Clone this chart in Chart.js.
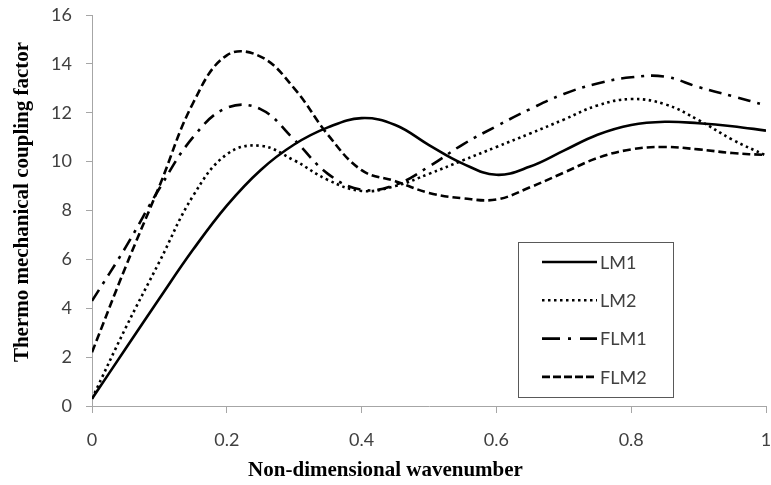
<!DOCTYPE html>
<html lang="en">
<head>
    <meta charset="UTF-8">
    <title>Thermo mechanical coupling factor</title>
    <script src="https://cdn.jsdelivr.net/npm/chart.js"></script>
    <style>
        body {
            margin: 0;
            background: #fff;
        }
    </style>
</head>
<body>
    <canvas id="couplingChart" width="771" height="485"></canvas>

    <script>
        // values
        const waveNumber = [0, 0.05, 0.1, 0.15, 0.2, 0.25, 0.3, 0.35, 0.4, 0.45, 0.5,
                            0.55, 0.6, 0.65, 0.7, 0.75, 0.8, 0.85, 0.9, 0.95, 1];
        const lm1  = [0.3, 2.35, 4.4, 6.4, 8.2, 9.65, 10.7, 11.4, 11.78, 11.5, 10.68,
                      9.92, 9.46, 9.8, 10.45, 11.1, 11.5, 11.63, 11.57, 11.45, 11.27];
        const lm2  = [0.3, 3.2, 5.9, 8.6, 10.3, 10.65, 10.05, 9.25, 8.8, 9.0, 9.5,
                      10.05, 10.6, 11.15, 11.72, 12.3, 12.56, 12.35, 11.7, 10.9, 10.25];
        const flm1 = [4.3, 6.5, 8.9, 11.0, 12.2, 12.15, 10.9, 9.5, 8.85, 9.05, 9.8,
                      10.7, 11.45, 12.15, 12.77, 13.2, 13.45, 13.48, 13.05, 12.68, 12.3];
        const flm2 = [2.2, 5.7, 9.0, 12.4, 14.35, 14.3, 13.0, 11.1, 9.65, 9.2, 8.72,
                      8.5, 8.45, 8.95, 9.55, 10.15, 10.5, 10.6, 10.5, 10.35, 10.27];

        const seriesNames = ['LM1', 'LM2', 'FLM1', 'FLM2'];
        const xTickValues = [0, 0.2, 0.4, 0.6, 0.8, 1];
        const xTickLabels = ['0', '0.2', '0.4', '0.6', '0.8', '1'];
        const yTickValues = [0, 2, 4, 6, 8, 10, 12, 14, 16];

        const xTitle = 'Non-dimensional wavenumber';
        const yTitle = 'Thermo mechanical coupling factor';

        const axisColor = '#a6a6a6';
        const textColor = '#404040';
        const tickFont = { family: 'Lato', size: 18 };

        function toPoints(values) {
            return values.map((v, i) => ({ x: waveNumber[i], y: v }));
        }

        function lineStyle(dash) {
            return {
                borderColor: '#000',
                borderWidth: 2.6,
                borderDash: dash,
                pointRadius: 0,
                fill: false,
                tension: 0.4
            };
        }

        // titles and boxed legend drawn by hand, Excel style
        const extrasPlugin = {
            id: 'extras',
            afterDraw(chart) {
                const ctx = chart.ctx;
                const area = chart.chartArea;
                ctx.save();

                ctx.fillStyle = '#000';
                ctx.font = 'bold 21px "Liberation Serif"';
                ctx.textAlign = 'center';
                ctx.textBaseline = 'alphabetic';
                ctx.fillText(xTitle, chart.width / 2, 476);

                ctx.save();
                ctx.translate(28, 202);
                ctx.rotate(-Math.PI / 2);
                ctx.fillText(yTitle, 0, 0);
                ctx.restore();

                // legend box
                const bx = area.right - 248, by = area.bottom - 164, bw = 155, bh = 155;
                ctx.fillStyle = '#fff';
                ctx.fillRect(bx, by, bw, bh);
                ctx.strokeStyle = '#595959';
                ctx.lineWidth = 1;
                ctx.strokeRect(bx + 0.5, by + 0.5, bw, bh);

                ctx.font = '18px Lato';
                ctx.textAlign = 'left';
                ctx.textBaseline = 'middle';
                chart.data.datasets.forEach((ds, i) => {
                    const y = by + 20 + i * 38.3;
                    ctx.beginPath();
                    ctx.setLineDash(ds.legendDash || ds.borderDash);
                    ctx.lineWidth = ds.borderWidth;
                    ctx.strokeStyle = ds.borderColor;
                    ctx.moveTo(bx + 24, y);
                    ctx.lineTo(bx + 79, y);
                    ctx.stroke();
                    ctx.setLineDash([]);
                    ctx.fillStyle = textColor;
                    ctx.fillText(ds.label, bx + 82, y + 1);
                });

                ctx.restore();
            }
        };

        const ctx = document.getElementById('couplingChart').getContext('2d');
        const couplingChart = new Chart(ctx, {
            type: 'line',
            data: {
                datasets: [
                    Object.assign({ label: seriesNames[0], data: toPoints(lm1) }, lineStyle([])),
                    Object.assign({ label: seriesNames[1], data: toPoints(lm2) }, lineStyle([2.5, 3.5])),
                    Object.assign({ label: seriesNames[2], data: toPoints(flm1), legendDash: [18, 8, 3, 9] }, lineStyle([13, 7, 3, 7])),
                    Object.assign({ label: seriesNames[3], data: toPoints(flm2), legendDash: [8, 3] }, lineStyle([8, 4]))
                ]
            },
            options: {
                responsive: false,
                animation: false,
                layout: {
                    padding: { top: 15, right: 5, left: 0, bottom: 0 }
                },
                plugins: {
                    legend: { display: false },
                    tooltip: { enabled: false }
                },
                scales: {
                    x: {
                        type: 'linear',
                        min: 0,
                        max: 1,
                        afterBuildTicks: s => { s.ticks = xTickValues.map(v => ({ value: v })); },
                        afterFit: s => { s.height = 79; s.paddingLeft = 0; s.paddingRight = 0; },
                        ticks: {
                            color: textColor,
                            font: tickFont,
                            padding: 16,
                            maxRotation: 0,
                            callback: (v, i) => xTickLabels[i]
                        },
                        grid: { drawOnChartArea: false, tickLength: 7, color: axisColor },
                        border: { color: axisColor }
                    },
                    y: {
                        min: 0,
                        max: 16,
                        afterBuildTicks: s => { s.ticks = yTickValues.map(v => ({ value: v })); },
                        afterFit: s => { s.width = 92; s.paddingTop = 0; s.paddingBottom = 0; },
                        ticks: {
                            color: textColor,
                            font: tickFont,
                            padding: 14
                        },
                        grid: { drawOnChartArea: false, tickLength: 6, color: axisColor },
                        border: { color: axisColor }
                    }
                }
            },
            plugins: [extrasPlugin]
        });
    </script>
</body>
</html>
